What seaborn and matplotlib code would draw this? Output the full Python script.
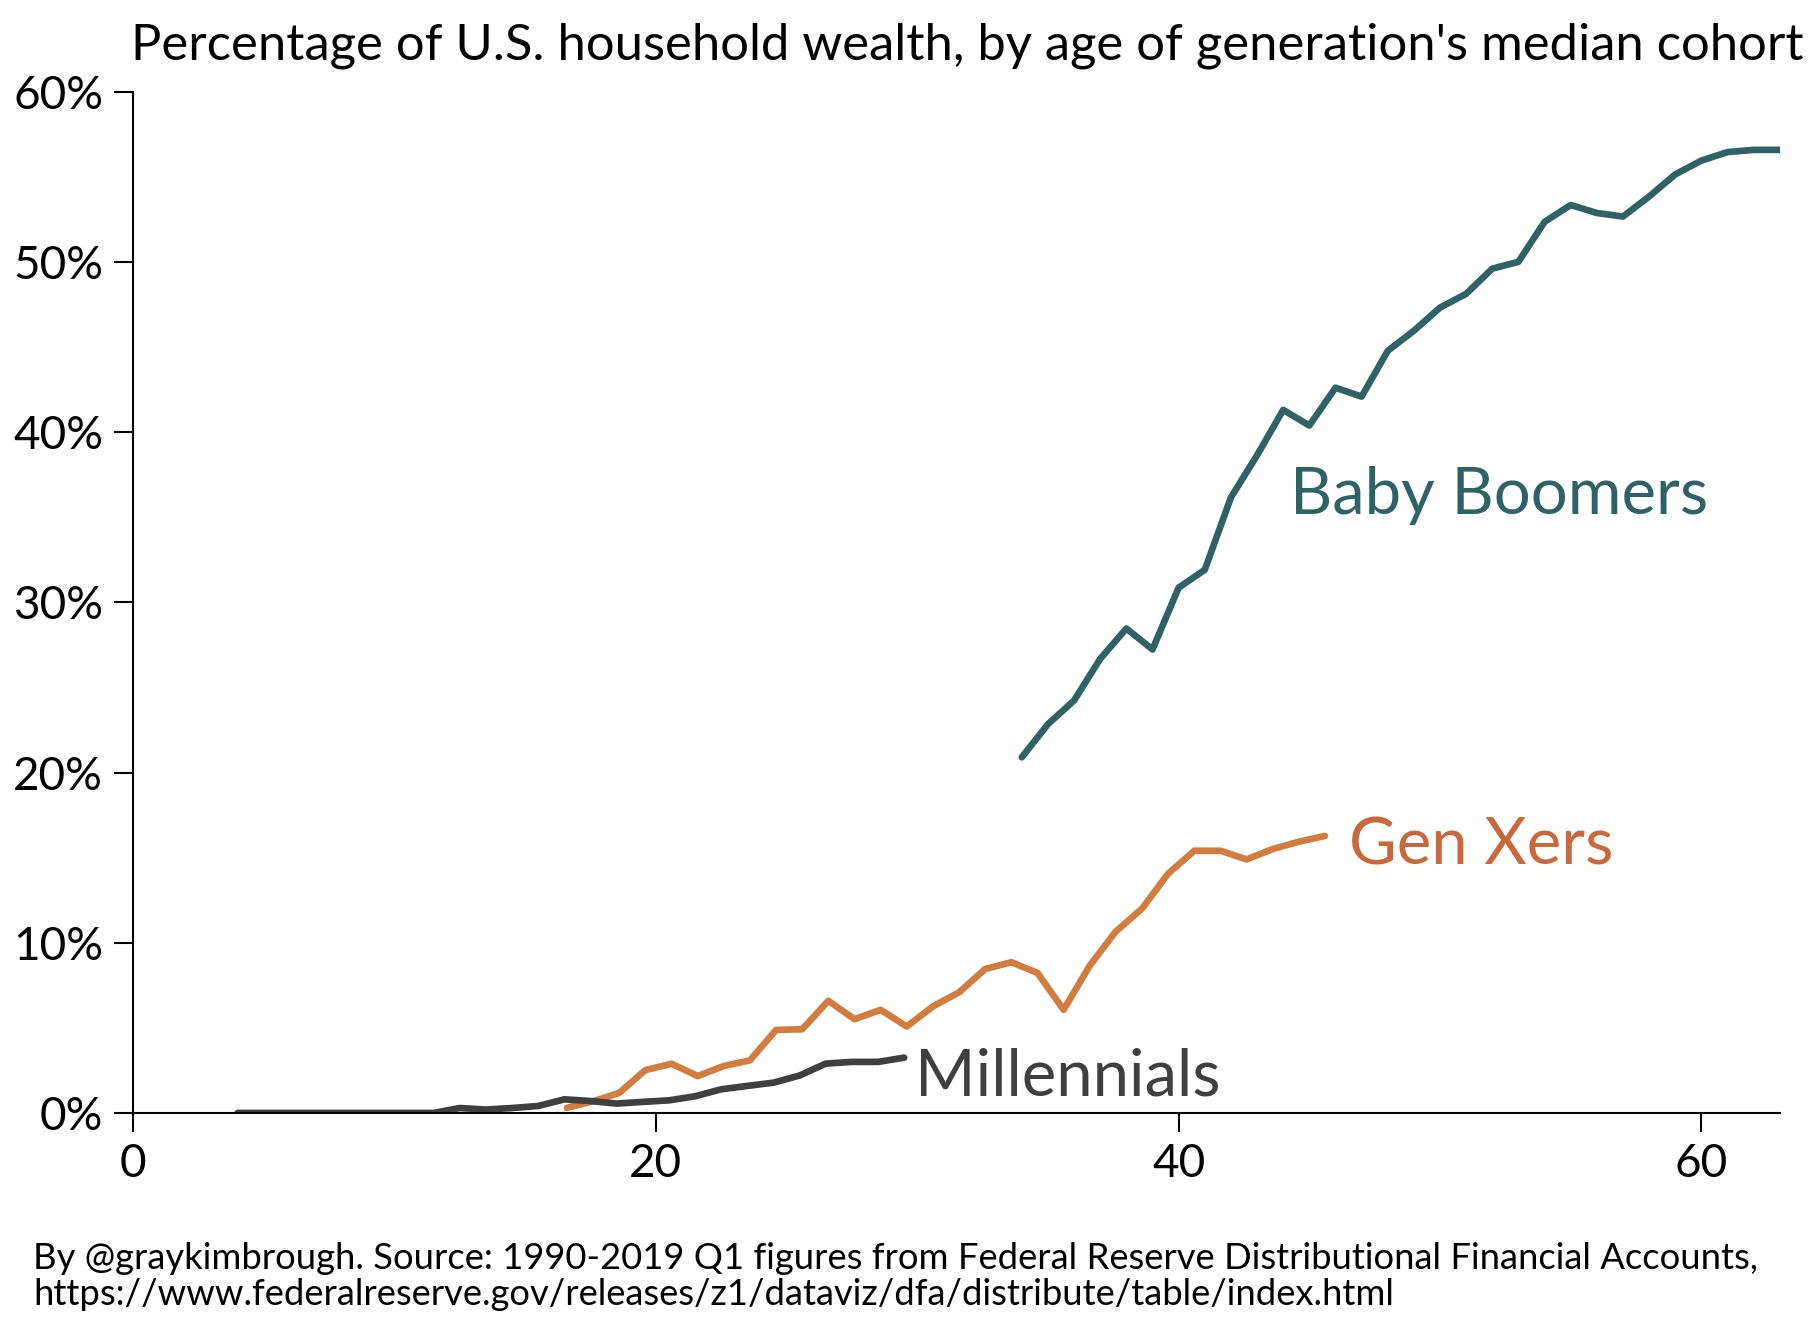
import matplotlib
matplotlib.use('Agg')
import matplotlib.pyplot as plt
import seaborn as sns
import pandas as pd
from matplotlib.ticker import FuncFormatter

# age of the generation's median cohort, one point a year (1990-2019)
boomer_age = [34, 35, 36, 37, 38, 39, 40, 41, 42, 43, 44, 45, 46, 47, 48,
              49, 50, 51, 52, 53, 54, 55, 56, 57, 58, 59, 60, 61, 62, 63]
boomer_share = [20.9, 22.85, 24.24, 26.69, 28.47, 27.24, 30.87, 31.92, 36.17, 38.65,
                41.32, 40.40, 42.62, 42.10, 44.79, 45.97, 47.33, 48.14, 49.62, 50.02,
                52.37, 53.36, 52.89, 52.68, 53.86, 55.16, 55.97, 56.47, 56.6, 56.6]

genx_age = [16.6, 17.6, 18.6, 19.6, 20.6, 21.6, 22.6, 23.6, 24.6, 25.6,
            26.6, 27.6, 28.6, 29.6, 30.6, 31.6, 32.6, 33.6, 34.6, 35.6,
            36.6, 37.6, 38.6, 39.6, 40.6, 41.6, 42.6, 43.6, 44.6, 45.6]
genx_share = [0.30, 0.69, 1.18, 2.52, 2.89, 2.17, 2.76, 3.09, 4.88, 4.92,
              6.59, 5.51, 6.06, 5.08, 6.26, 7.09, 8.46, 8.86, 8.23, 6.06,
              8.66, 10.67, 12.01, 14.07, 15.41, 15.41, 14.90, 15.51, 15.94, 16.28]

mill_age = [4.0, 5.5, 6.5, 7.5, 8.5, 9.5, 10.5, 11.5, 12.5, 13.5, 14.5, 15.5, 16.5,
            17.5, 18.5, 19.5, 20.5, 21.5, 22.5, 23.5, 24.5, 25.5, 26.5, 27.5, 28.5, 29.5]
mill_share = [0, 0, 0, 0, 0, 0, 0, 0, 0.29, 0.2, 0.29, 0.41, 0.8,
              0.7, 0.55, 0.65, 0.74, 0.98, 1.39, 1.59, 1.78, 2.2, 2.9, 3.0, 3.0, 3.25]

x_ticks = [0, 20, 40, 60]
y_ticks = [0, 10, 20, 30, 40, 50, 60]

teal = '#2e6266'
orange = '#d27d3f'
orange_txt = '#c9683a'
gray = '#3f3f3f'

sns.set_style('ticks')
plt.rcParams['font.family'] = ['Lato', 'DejaVu Sans']

fig = plt.figure(figsize=(18.18, 13.24), dpi=100)
ax = fig.add_axes([0.0732, 0.1594, 0.9058, 0.7711])

sns.lineplot(x=genx_age, y=genx_share, ax=ax, color=orange, linewidth=4.8)
sns.lineplot(x=mill_age, y=mill_share, ax=ax, color=gray, linewidth=4.8)
sns.lineplot(x=boomer_age, y=boomer_share, ax=ax, color=teal, linewidth=4.8)

ax.text(44.25, 35.2, 'Baby Boomers', color=teal, fontsize=47, va='baseline', ha='left')
ax.text(46.5, 14.63, 'Gen Xers', color=orange_txt, fontsize=47, va='baseline', ha='left')
ax.text(29.9, 1.0, 'Millennials', color=gray, fontsize=47, va='baseline', ha='left')

ax.set_xlim(0, 63)
ax.set_ylim(0, 60)
ax.set_xticks(x_ticks)
ax.set_yticks(y_ticks)
ax.yaxis.set_major_formatter(FuncFormatter(lambda v, p: f'{v:.0f}%'))
ax.tick_params(direction='out', length=13.5, width=1.5, labelsize=33, pad=8,
               color='black', labelcolor='black')
sns.despine(ax=ax)
for s in ['left', 'bottom']:
    ax.spines[s].set_linewidth(1.5)
    ax.spines[s].set_color('black')
ax.set_xlabel('')
ax.set_ylabel('')

fig.text(0.532, 0.955, "Percentage of U.S. household wealth, by age of generation's median cohort",
         ha='center', va='baseline', fontsize=36.5, color='black')
fig.text(0.0183, 0.0415,
         'By @graykimbrough. Source: 1990-2019 Q1 figures from Federal Reserve Distributional Financial Accounts,',
         ha='left', va='baseline', fontsize=26.2, color='black')
fig.text(0.0183, 0.0144,
         'https://www.federalreserve.gov/releases/z1/dataviz/dfa/distribute/table/index.html',
         ha='left', va='baseline', fontsize=26.2, color='black')

fig.savefig('out.png', dpi=100)
